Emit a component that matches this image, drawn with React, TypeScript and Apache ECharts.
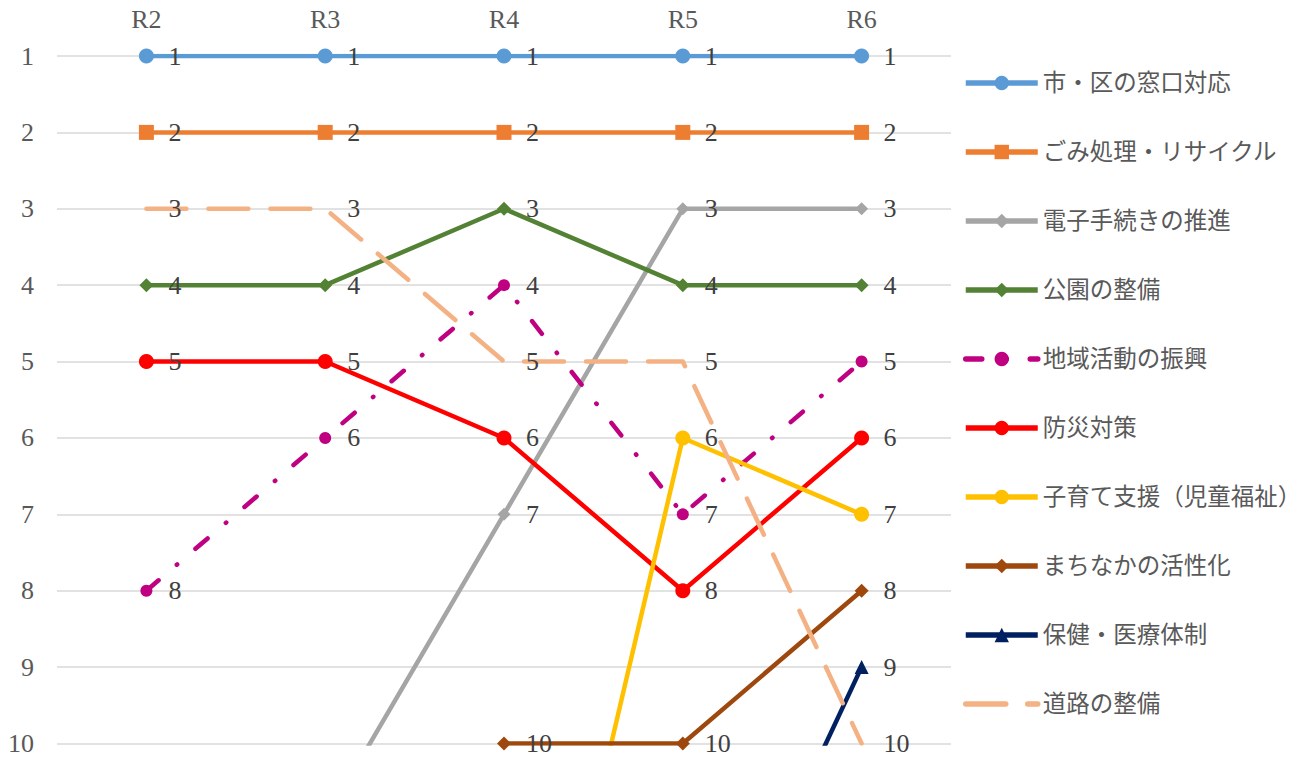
import React, { useEffect, useRef } from 'react';
import * as echarts from 'echarts';

const categories = ['R2', 'R3', 'R4', 'R5', 'R6'];
const rankTicks = [1, 10];

const madoguchi = [1, 1, 1, 1, 1];
const gomi = [2, 2, 2, 2, 2];
const denshi = [null, 11, 7, 3, 3];
const koen = [4, 4, 3, 4, 4];
const chiiki = [8, 6, 4, 7, 5];
const bosai = [5, 5, 6, 8, 6];
const kosodate = [null, null, 16, 6, 7];
const machinaka = [null, null, 10, 10, 8];
const hoken = [null, null, null, 14, 9];
const doro = [3, 3, 5, 5, 10];

const NUM_FONT = "'Liberation Serif', 'Noto Sans CJK JP', serif";
const LEG_FONT = "'Liberation Serif', 'Noto Sans CJK JP', serif";

type S = {
  name: string;
  data: (number | null)[];
  color: string;
  symbol: string;
  size: number;
  dash?: number[];
  hideSymbol?: boolean;
};

const seriesDefs: S[] = [
  { name: '市・区の窓口対応', data: madoguchi, color: '#5B9BD5', symbol: 'circle', size: 15 },
  { name: 'ごみ処理・リサイクル', data: gomi, color: '#ED7D31', symbol: 'rect', size: 15 },
  { name: '電子手続きの推進', data: denshi, color: '#A5A5A5', symbol: 'diamond', size: 13 },
  { name: '公園の整備', data: koen, color: '#548235', symbol: 'diamond', size: 14 },
  { name: '地域活動の振興', data: chiiki, color: '#BF0080', symbol: 'circle', size: 12, dash: [16, 24, 0.5, 24] },
  { name: '防災対策', data: bosai, color: '#FF0000', symbol: 'circle', size: 15 },
  { name: '子育て支援（児童福祉）', data: kosodate, color: '#FFC000', symbol: 'circle', size: 15 },
  { name: 'まちなかの活性化', data: machinaka, color: '#9E480E', symbol: 'diamond', size: 14 },
  { name: '保健・医療体制', data: hoken, color: '#002060', symbol: 'triangle', size: 14 },
  { name: '道路の整備', data: doro, color: '#F4B183', symbol: 'circle', size: 1, dash: [40, 22], hideSymbol: true },
];

export default function App() {
  const ref = useRef<HTMLDivElement>(null);
  useEffect(() => {
    if (!ref.current) return;
    const chart = echarts.init(ref.current, null, { renderer: 'svg' });
    const series = seriesDefs.map((d) => ({
      name: d.name,
      type: 'line',
      data: d.data,
      symbol: d.symbol,
      symbolSize: d.size,
      clip: true,
      lineStyle: {
        color: d.color,
        width: 4.5,
        type: d.dash ? d.dash : 'solid',
        cap: d.dash ? 'round' : 'butt',
        join: 'round',
      },
      itemStyle: { color: d.hideSymbol ? 'rgba(0,0,0,0)' : d.color },
      label: {
        show: true,
        position: 'right',
        distance: 22 - d.size / 2,
        color: '#404040',
        fontSize: 26,
        fontFamily: NUM_FONT,
        formatter: '{c}',
      },
      emphasis: { disabled: true },
    }));
    chart.setOption({
      animation: false,
      backgroundColor: '#FFFFFF',
      grid: { left: 57, right: 351, top: 56, bottom: 13.5, outerBoundsMode: 'none' },
      xAxis: {
        type: 'category',
        data: categories,
        position: 'top',
        boundaryGap: true,
        axisLine: { show: false },
        axisTick: { show: false },
        splitLine: { show: false },
        axisLabel: { color: '#595959', fontSize: 26, fontFamily: NUM_FONT, margin: 24 },
      },
      yAxis: {
        type: 'value',
        inverse: true,
        min: rankTicks[0],
        max: rankTicks[1],
        interval: 1,
        axisLine: { show: false },
        axisTick: { show: false },
        axisLabel: { color: '#595959', fontSize: 26, fontFamily: NUM_FONT, margin: 23 },
        splitLine: { show: true, showMinLine: true, showMaxLine: true, lineStyle: { color: '#D9D9D9', width: 1.5 } },
      },
      legend: {
        orient: 'vertical',
        left: 963,
        top: 71,
        padding: 0,
        itemWidth: 72,
        itemHeight: 18,
        itemGap: 45,
        lineStyle: { width: 5.5 },
        textStyle: { color: '#595959', fontSize: 23.5, fontFamily: LEG_FONT, lineHeight: 24 },
        data: seriesDefs.map((d) => d.name),
      },
      series,
    });
    return () => chart.dispose();
  }, []);
  return (
    <div
      ref={ref}
      style={{ position: 'absolute', left: 0, top: 0, width: 1302, height: 757, background: '#fff' }}
    />
  );
}
